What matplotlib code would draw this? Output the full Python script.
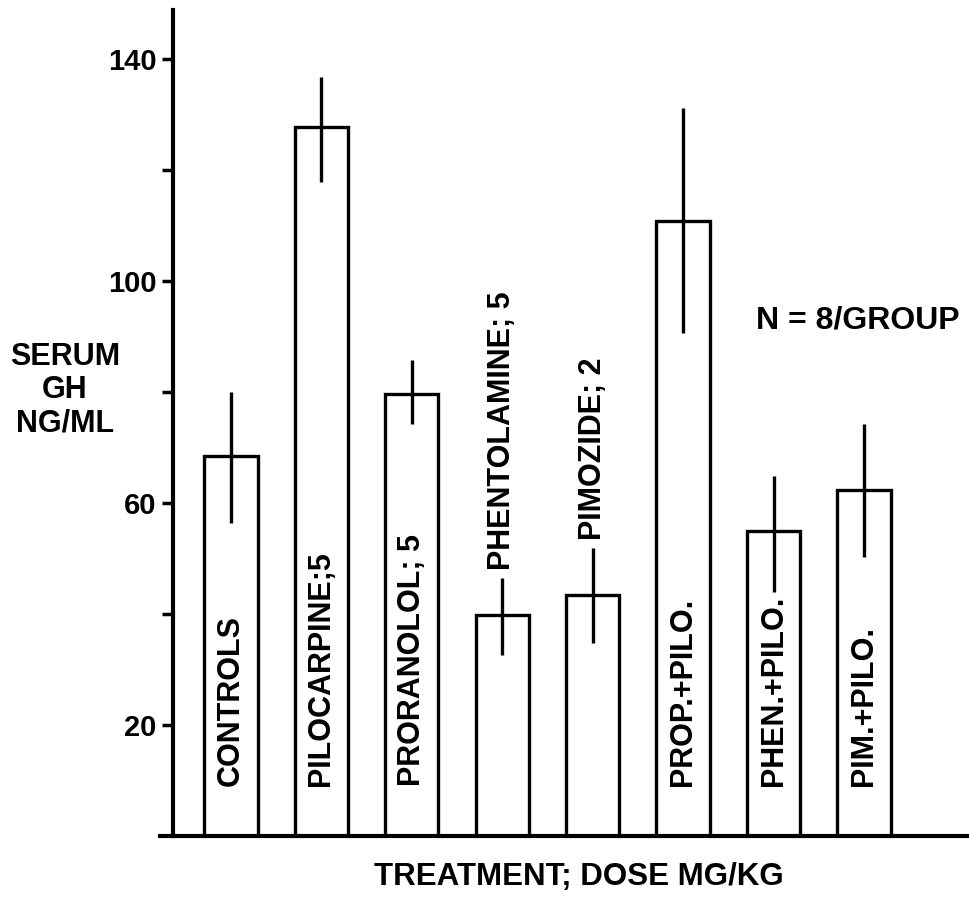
import matplotlib
matplotlib.use("Agg")
import matplotlib.pyplot as plt

# treatment groups and serum GH (ng/ml)
labels = ["CONTROLS", "PILOCARPINE;5", "PRORANOLOL; 5", "PHENTOLAMINE; 5",
          "PIMOZIDE; 2", "PROP.+PILO.", "PHEN.+PILO.", "PIM.+PILO."]
means = [68.5, 127.7, 79.6, 39.8, 43.4, 110.8, 55.0, 62.3]
err_top = [80.0, 136.8, 85.8, 46.5, 51.9, 131.2, 64.9, 74.2]
err_bottom = [56.4, 117.8, 74.2, 32.6, 34.8, 90.6, 44.0, 50.3]
# labels that sit above the bar instead of inside it
above = [False, False, False, True, True, False, False, False]

font = "Liberation Sans"

fig = plt.figure(figsize=(9.69, 8.97), dpi=100)
ax = fig.add_axes([0.1785, 0.068, 0.8215, 0.9209])

x = list(range(len(labels)))
ax.bar(x, means, width=0.59, facecolor="white", edgecolor="black", linewidth=2.4)
ax.vlines(x, err_bottom, err_top, color="black", linewidth=2.4)

for xi, lab, top, up in zip(x, labels, err_top, above):
    y0 = top + 1.5 if up else 9
    ax.text(xi, y0, lab, rotation=90, ha="center", va="bottom",
            fontsize=22, fontweight="bold", family=font)

ax.set_xlim(-0.64, 8.16)
ax.set_ylim(0, 148.8)
ax.set_xticks([])
ax.set_yticks([20, 40, 60, 80, 100, 120, 140])
ax.set_yticklabels(["20", "", "60", "", "100", "", "140"])
ax.tick_params(axis="y", length=8, width=2.5, pad=4, labelsize=21)
for t in ax.get_yticklabels():
    t.set_fontweight("bold")
    t.set_family(font)

for side in ["top", "right"]:
    ax.spines[side].set_visible(False)
ax.spines["left"].set_linewidth(3)
ax.spines["bottom"].set_visible(False)
# baseline runs a little past the y axis on the left
ax.plot([-0.78, 8.16], [0, 0], color="black", linewidth=3, clip_on=False)

fig.text(0.067, 0.565, "SERUM\nGH\nNG/ML", ha="center", va="center",
         fontsize=22, fontweight="bold", family=font, linespacing=1.15)
fig.text(0.597, 0.022, "TREATMENT; DOSE MG/KG", ha="center", va="center",
         fontsize=22.5, fontweight="bold", family=font)
fig.text(0.885, 0.643, "N = 8/GROUP", ha="center", va="center",
         fontsize=23, fontweight="bold", family=font)

fig.savefig("out.png", dpi=100, facecolor="white")
